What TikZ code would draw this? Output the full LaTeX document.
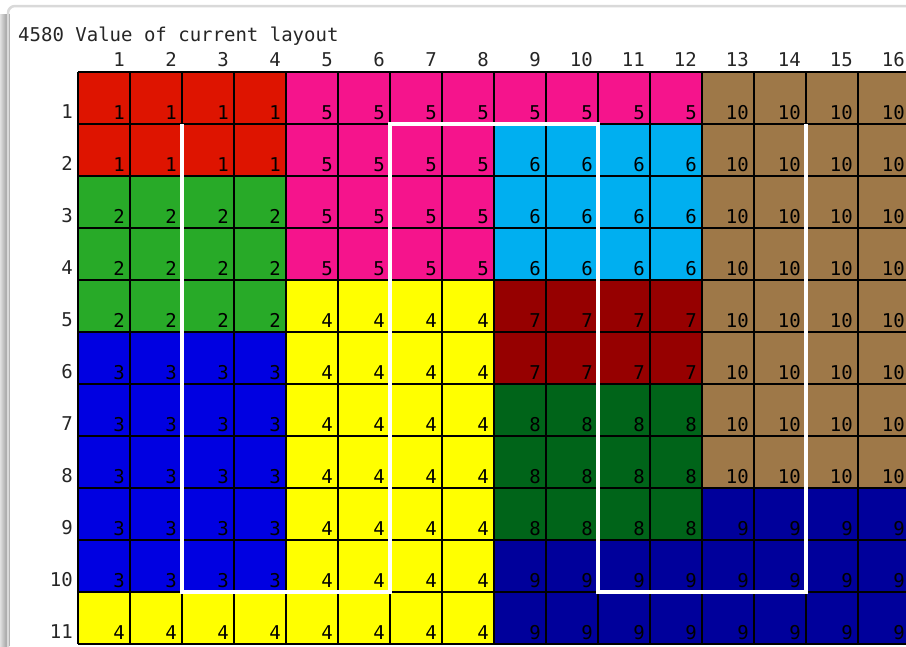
\documentclass[tikz,border=0pt]{standalone}
\usepackage{fontspec}
\newfontfamily\pix{DejaVu Sans Mono}
\definecolor{v1}{RGB}{222,20,0}
\definecolor{v2}{RGB}{40,170,40}
\definecolor{v3}{RGB}{0,0,225}
\definecolor{v4}{RGB}{255,255,0}
\definecolor{v5}{RGB}{245,20,140}
\definecolor{v6}{RGB}{0,175,240}
\definecolor{v7}{RGB}{150,0,0}
\definecolor{v8}{RGB}{0,100,25}
\definecolor{v9}{RGB}{0,0,155}
\definecolor{v10}{RGB}{158,120,72}
\tikzset{
  lbl/.style={inner sep=0pt, font=\pix\fontsize{19}{21}\selectfont, text=black!85},
  gridline/.style={black, line width=1.5pt},
  path/.style={white, line width=4.5pt, line join=miter},
}
\begin{document}
\begin{tikzpicture}[x=1pt,y=-1pt]
\useasboundingbox (0,0) rectangle (906,646);
\clip (0,0) rectangle (906,646);
\fill[white] (0,0) rectangle (906,646);
% window frame
\shade[left color=black!12, right color=black!38] (0,14) rectangle (7,646);
\draw[black!15, line width=2.5pt, rounded corners=7pt] (8,660) -- (8,6) -- (920,6);
\draw[black!30, line width=0.8pt] (9.5,646) -- (9.5,14);
% title
\node[lbl, anchor=base west] (title) at (18,41.5) {4580 Value of current layout};
% cells
\foreach \rowlist [count=\r] in {
 {1,1,1,1,5,5,5,5,5,5,5,5,10,10,10,10},
 {1,1,1,1,5,5,5,5,6,6,6,6,10,10,10,10},
 {2,2,2,2,5,5,5,5,6,6,6,6,10,10,10,10},
 {2,2,2,2,5,5,5,5,6,6,6,6,10,10,10,10},
 {2,2,2,2,4,4,4,4,7,7,7,7,10,10,10,10},
 {3,3,3,3,4,4,4,4,7,7,7,7,10,10,10,10},
 {3,3,3,3,4,4,4,4,8,8,8,8,10,10,10,10},
 {3,3,3,3,4,4,4,4,8,8,8,8,10,10,10,10},
 {3,3,3,3,4,4,4,4,8,8,8,8,9,9,9,9},
 {3,3,3,3,4,4,4,4,9,9,9,9,9,9,9,9},
 {4,4,4,4,4,4,4,4,9,9,9,9,9,9,9,9}} {
  \foreach \v [count=\c] in \rowlist {
    \fill[v\v] ({78+52*(\c-1)},{72+52*(\r-1)}) rectangle +(52,52);
    \node[lbl, text=black, anchor=base east] (n\r-\c) at ({78+52*\c-5},{72+52*\r-5}) {\v};
  }
}
% grid
\foreach \c in {0,...,16} \draw[gridline] ({78+52*\c},72) -- ({78+52*\c},644);
\foreach \r in {0,...,11} \draw[gridline] (78,{72+52*\r}) -- (910,{72+52*\r});
% labels
\foreach \c in {1,...,16} \node[lbl, anchor=base east] (col\c) at ({78+52*\c-5},66.5) {\c};
\foreach \r in {1,...,11} \node[lbl, anchor=base east] (row\r) at (73,{72+52*\r-5.5}) {\r};
% aisle path
\draw[path] (182,124) -- (182,592) -- (390,592) -- (390,124) -- (598,124) -- (598,592) -- (806,592) -- (806,124);
\end{tikzpicture}
\end{document}
